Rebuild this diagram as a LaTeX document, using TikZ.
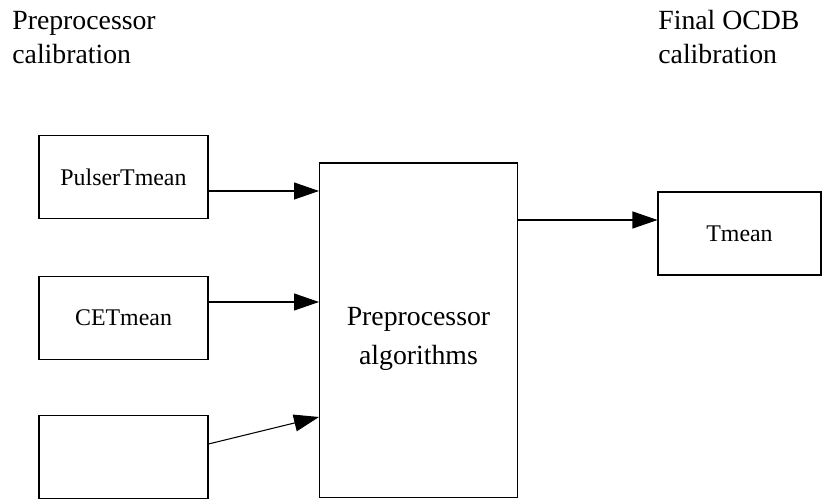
\documentclass[tikz,border=0pt]{standalone}
\usepackage{fontspec}
\setmainfont{Liberation Serif}
\usetikzlibrary{arrows.meta}
\begin{document}
\begin{tikzpicture}[x=0.02cm,y=-0.02cm,
  blk/.style={draw,line width=0.6pt,inner sep=0pt,minimum width=3.38cm,minimum height=1.66cm,font=\fontsize{13.6}{16}\selectfont},
  arr/.style={-{Triangle[length=0.5cm,width=0.34cm]},line width=0.6pt},
  lbl/.style={align=left,inner sep=0pt,anchor=base west,font=\fontsize{15.8}{19.8}\selectfont}]
\useasboundingbox (0,0) rectangle (822,502);
% titles
\node[lbl] (precal) at (12,64) {Preprocessor\\calibration};
\node[lbl] (finalcal) at (658,64) {Final OCDB\\calibration};
% inputs
\node[blk] (pulser) at (123.5,177) {PulserTmean};
\node[blk] (cet) at (123.5,318) {CETmean};
\node[blk] (blank) at (123.5,457) {};
% algorithms and output
\node[blk,minimum width=3.96cm,minimum height=6.7cm,align=center,font=\fontsize{15.8}{22}\selectfont] (algo) at (418.5,330.5) {\rule{0pt}{20pt}Preprocessor\\algorithms};
\node[blk,minimum width=3.26cm,minimum height=1.66cm] (tmean) at (739.5,233.5) {Tmean};
\draw[arr] (pulser.east |- 0,191) -- (algo.west |- 0,191);
\draw[arr] (cet.east |- 0,302) -- (algo.west |- 0,302);
\draw[arr] (blank.east |- 0,444) -- (algo.west |- 0,417);
\draw[arr] (algo.east |- 0,220) -- (tmean.west |- 0,220);
\end{tikzpicture}
\end{document}
